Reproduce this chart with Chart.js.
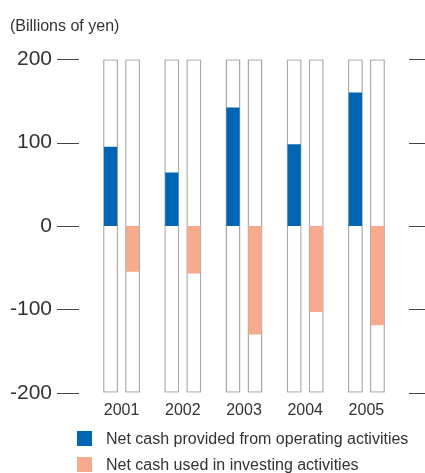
<!DOCTYPE html>
<html lang="en">
<head>
<meta charset="UTF-8">
<title>Cash flows</title>
<script src="https://cdn.jsdelivr.net/npm/chart.js"></script>
<style>
  body { margin: 0; background: #fff; font-family: "Liberation Sans", Arial, sans-serif; }
  #wrap { position: relative; width: 425px; height: 473px; }
  .key { position: absolute; left: 77px; font-size: 16px; color: #333; line-height: 15px; white-space: nowrap; }
  .key span { display: inline-block; width: 15px; height: 15px; vertical-align: top; margin-right: 14px; }
</style>
</head>
<body>
<div id="wrap">
  <canvas id="cashChart" width="425" height="473"></canvas>
  <div class="key" style="top:431px"><span style="background:#0066b3"></span>Net cash provided from operating activities</div>
  <div class="key" style="top:457px"><span style="background:#f8aa8f"></span>Net cash used in investing activities</div>
</div>

<script>
  // data, billions of yen
  const years = ['2001', '2002', '2003', '2004', '2005'];
  const operating = [95, 64, 142, 98, 160];
  const investing = [-55, -57, -130, -103, -119];
  const yMin = -200;
  const yMax = 200;

  const FONT = '"Liberation Sans", Arial, sans-serif';

  // empty white "tracks" behind each bar, full scale range
  const track = years.map(() => [yMin, yMax]);

  // short tick marks on both sides of the plot
  const sideTicks = {
    id: 'sideTicks',
    afterDraw(chart) {
      const { ctx, chartArea, scales } = chart;
      const y = scales.y;
      ctx.save();
      ctx.strokeStyle = '#444';
      ctx.lineWidth = 1;
      y.ticks.forEach((t) => {
        const py = Math.round(y.getPixelForValue(t.value)) + 0.5;
        ctx.beginPath();
        ctx.moveTo(chartArea.left - 34, py);
        ctx.lineTo(chartArea.left - 12, py);
        ctx.moveTo(chartArea.right + 12, py);
        ctx.lineTo(chart.width, py);
        ctx.stroke();
      });
      ctx.restore();
    }
  };

  new Chart(document.getElementById('cashChart'), {
    type: 'bar',
    data: {
      labels: years,
      datasets: [
        {
          data: operating,
          stack: 'op',
          backgroundColor: '#0066b3',
          barPercentage: 0.6,
          categoryPercentage: 0.72
        },
        {
          data: investing,
          stack: 'inv',
          backgroundColor: '#f8aa8f',
          barPercentage: 0.6,
          categoryPercentage: 0.72
        },
        {
          data: track,
          stack: 'op',
          order: 1,
          backgroundColor: '#fff',
          borderColor: '#aaa',
          borderWidth: 1.5,
          borderSkipped: false,
          barPercentage: 0.68,
          categoryPercentage: 0.72
        },
        {
          data: track,
          stack: 'inv',
          order: 1,
          backgroundColor: '#fff',
          borderColor: '#aaa',
          borderWidth: 1.5,
          borderSkipped: false,
          barPercentage: 0.68,
          categoryPercentage: 0.72
        }
      ]
    },
    options: {
      responsive: false,
      animation: false,
      layout: { padding: { top: 4, left: 10, right: 28, bottom: 45 } },
      plugins: {
        legend: { display: false },
        tooltip: { enabled: false },
        title: {
          display: true,
          text: '(Billions of yen)',
          align: 'start',
          color: '#333',
          font: { family: FONT, size: 16, weight: 'normal' },
          padding: { top: 13, bottom: 23 }
        }
      },
      scales: {
        x: {
          grid: { display: false, drawTicks: false },
          border: { display: false },
          ticks: { color: '#333', padding: 8, font: { family: FONT, size: 16 } }
        },
        y: {
          stacked: false,
          min: yMin,
          max: yMax,
          grid: { display: false, drawTicks: false },
          border: { display: false },
          ticks: { stepSize: 100, color: '#333', padding: 39, font: { family: FONT, size: 21 } },
          afterFit(scale) { scale.width = 81; }
        }
      }
    },
    plugins: [sideTicks]
  });
</script>
</body>
</html>
